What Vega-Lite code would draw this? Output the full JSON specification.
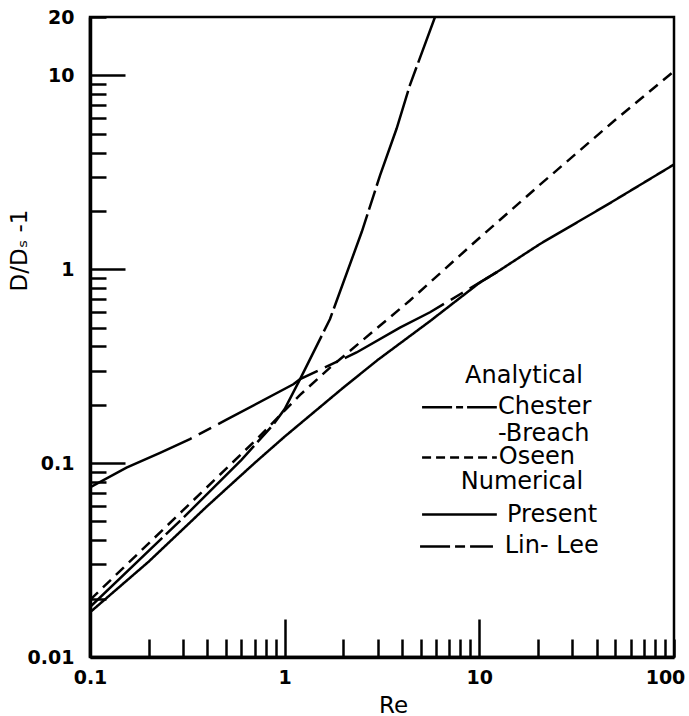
{
  "$schema": "https://vega.github.io/schema/vega-lite/v6.json",
  "width": 584,
  "height": 640,
  "autosize": "none",
  "padding": {"left": 90, "top": 17, "right": 15, "bottom": 59},
  "background": "white",
  "config": {
    "font": "DejaVu Sans",
    "view": {"stroke": "black", "strokeWidth": 2.5}
  },
  "datasets": {
    "curves": [
      {"series": "Present", "Re": 0.1, "D": 0.017},
      {"series": "Present", "Re": 0.2, "D": 0.031},
      {"series": "Present", "Re": 0.4, "D": 0.060},
      {"series": "Present", "Re": 0.7, "D": 0.1},
      {"series": "Present", "Re": 1, "D": 0.137},
      {"series": "Present", "Re": 2, "D": 0.245},
      {"series": "Present", "Re": 3, "D": 0.34},
      {"series": "Present", "Re": 5.58, "D": 0.54},
      {"series": "Present", "Re": 10, "D": 0.85},
      {"series": "Present", "Re": 12.3, "D": 0.966},
      {"series": "Present", "Re": 20.5, "D": 1.35},
      {"series": "Present", "Re": 45, "D": 2.14},
      {"series": "Present", "Re": 100, "D": 3.47},
      {"series": "Oseen", "Re": 0.1, "D": 0.0197},
      {"series": "Oseen", "Re": 0.3, "D": 0.057},
      {"series": "Oseen", "Re": 0.73, "D": 0.135},
      {"series": "Oseen", "Re": 1.2, "D": 0.225},
      {"series": "Oseen", "Re": 1.71, "D": 0.311},
      {"series": "Oseen", "Re": 4.4, "D": 0.69},
      {"series": "Oseen", "Re": 10, "D": 1.45},
      {"series": "Oseen", "Re": 20.5, "D": 2.73},
      {"series": "Oseen", "Re": 50, "D": 5.9},
      {"series": "Oseen", "Re": 100, "D": 10.5},
      {"series": "Chester-Breach", "Re": 0.1, "D": 0.0181},
      {"series": "Chester-Breach", "Re": 0.3, "D": 0.052},
      {"series": "Chester-Breach", "Re": 0.6, "D": 0.104},
      {"series": "Chester-Breach", "Re": 0.874, "D": 0.158},
      {"series": "Chester-Breach", "Re": 1.0, "D": 0.19},
      {"series": "Chester-Breach", "Re": 1.2, "D": 0.271},
      {"series": "Chester-Breach", "Re": 1.71, "D": 0.554},
      {"series": "Chester-Breach", "Re": 2.49, "D": 1.56},
      {"series": "Chester-Breach", "Re": 3.09, "D": 3.05},
      {"series": "Chester-Breach", "Re": 3.76, "D": 5.32},
      {"series": "Chester-Breach", "Re": 4.4, "D": 8.91},
      {"series": "Chester-Breach", "Re": 5.92, "D": 20},
      {"series": "Lin-Lee", "Re": 0.1, "D": 0.075},
      {"series": "Lin-Lee", "Re": 0.154, "D": 0.0947},
      {"series": "Lin-Lee", "Re": 0.229, "D": 0.113},
      {"series": "Lin-Lee", "Re": 0.326, "D": 0.133},
      {"series": "Lin-Lee", "Re": 0.5, "D": 0.167},
      {"series": "Lin-Lee", "Re": 1.108, "D": 0.255},
      {"series": "Lin-Lee", "Re": 1.2, "D": 0.271},
      {"series": "Lin-Lee", "Re": 2.34, "D": 0.372},
      {"series": "Lin-Lee", "Re": 3.91, "D": 0.5},
      {"series": "Lin-Lee", "Re": 5.58, "D": 0.6},
      {"series": "Lin-Lee", "Re": 8, "D": 0.745},
      {"series": "Lin-Lee", "Re": 12.3, "D": 0.966}
    ],
    "samples": [
      {"series": "Chester-Breach", "x1": 5.08, "x2": 12.3, "y": 0.194},
      {"series": "Oseen", "x1": 5.08, "x2": 12.3, "y": 0.107},
      {"series": "Present", "x1": 5.08, "x2": 12.3, "y": 0.0543},
      {"series": "Lin-Lee", "x1": 4.96, "x2": 11.75, "y": 0.0372}
    ],
    "headers": [
      {"text": "Analytical", "x": 16.96, "y": 0.281},
      {"text": "Numerical", "x": 16.56, "y": 0.0795}
    ],
    "entries": [
      {"text": "Chester", "x": 12.47, "y": 0.194},
      {"text": "-Breach", "x": 12.47, "y": 0.1408},
      {"text": "Oseen", "x": 12.6, "y": 0.107},
      {"text": "Present", "x": 13.87, "y": 0.0543},
      {"text": "Lin- Lee", "x": 13.5, "y": 0.0372}
    ]
  },
  "layer": [
    {
      "data": {"name": "curves"},
      "mark": {"type": "line", "color": "black", "strokeWidth": 2.5, "clip": true},
      "encoding": {
        "x": {
          "field": "Re", "type": "quantitative",
          "scale": {"type": "log", "domain": [0.1, 100], "nice": false},
          "axis": {
            "title": "Re",
            "values": [0.1,0.2,0.3,0.4,0.5,0.6,0.7,0.8,0.9,1,2,3,4,5,6,7,8,9,10,20,30,40,50,60,70,80,90,100],
            "format": "~g",
            "labelExpr": "(datum.value==0.1||datum.value==1||datum.value==10||datum.value==100) ? datum.label : ''",
            "tickSize": {"condition": {"test": "datum.value==1||datum.value==10", "value": -38}, "value": -18},
            "labelPadding": {"condition": {"test": "datum.value==1||datum.value==10", "value": 49}, "value": 29},
            "labelOffset": {"condition": {"test": "datum.value==100", "value": -9}, "value": 0},
            "tickColor": "black", "tickWidth": 2.5,
            "domainColor": "black", "domainWidth": 3.5,
            "labelColor": "black", "labelFontSize": 19, "labelFontWeight": "bold", "labelFlush": false, "labelOverlap": false, "labelBound": false,
            "labelBaseline": "top",
            "grid": false,
            "titleColor": "black", "titleFontSize": 23, "titleFontWeight": "normal",
            "titleX": 303, "titleY": 55, "titleBaseline": "alphabetic", "titleAlign": "center"
          }
        },
        "y": {
          "field": "D", "type": "quantitative",
          "scale": {"type": "log", "domain": [0.01, 20], "nice": false},
          "axis": {
            "title": "D/Dₛ -1",
            "values": [0.01,0.02,0.03,0.04,0.05,0.06,0.07,0.08,0.09,0.1,0.2,0.3,0.4,0.5,0.6,0.7,0.8,0.9,1,2,3,4,5,6,7,8,9,10,20],
            "format": "~g",
            "labelExpr": "(datum.value==0.01||datum.value==0.1||datum.value==1||datum.value==10||datum.value==20) ? datum.label : ''",
            "tickSize": {"condition": {"test": "datum.value==0.1||datum.value==1||datum.value==10", "value": -35}, "value": -16},
            "labelPadding": {"condition": {"test": "datum.value==0.1||datum.value==1||datum.value==10", "value": 51}, "value": 32},
            "tickColor": "black", "tickWidth": 2.5,
            "domainColor": "black", "domainWidth": 3.5,
            "labelColor": "black", "labelFontSize": 19, "labelFontWeight": "bold", "labelFlush": false, "labelOverlap": false, "labelBound": false,
            "grid": false,
            "titleColor": "black", "titleFontSize": 23, "titleFontWeight": "normal",
            "titleX": -71, "titleY": 233, "titleBaseline": "middle", "titleAlign": "center", "titleAngle": -90
          }
        },
        "detail": {"field": "series"},
        "strokeDash": {
          "field": "series", "type": "nominal",
          "scale": {"domain": ["Present", "Oseen", "Chester-Breach", "Lin-Lee"], "range": [[1, 0], [11, 7], [100, 5, 20, 5], [113, 8, 14, 8]]},
          "legend": null
        }
      }
    },
    {
      "data": {"name": "samples"},
      "transform": [{"filter": "datum.series == 'Chester-Breach'"}],
      "mark": {"type": "rule", "color": "black", "strokeWidth": 2.5, "strokeDash": [30, 4, 7, 4]},
      "encoding": {"x": {"field": "x1", "type": "quantitative"}, "x2": {"field": "x2"}, "y": {"field": "y", "type": "quantitative"}}
    },
    {
      "data": {"name": "samples"},
      "transform": [{"filter": "datum.series == 'Oseen'"}],
      "mark": {"type": "rule", "color": "black", "strokeWidth": 2.5, "strokeDash": [9, 5]},
      "encoding": {"x": {"field": "x1", "type": "quantitative"}, "x2": {"field": "x2"}, "y": {"field": "y", "type": "quantitative"}}
    },
    {
      "data": {"name": "samples"},
      "transform": [{"filter": "datum.series == 'Present'"}],
      "mark": {"type": "rule", "color": "black", "strokeWidth": 2.5},
      "encoding": {"x": {"field": "x1", "type": "quantitative"}, "x2": {"field": "x2"}, "y": {"field": "y", "type": "quantitative"}}
    },
    {
      "data": {"name": "samples"},
      "transform": [{"filter": "datum.series == 'Lin-Lee'"}],
      "mark": {"type": "rule", "color": "black", "strokeWidth": 2.5, "strokeDash": [30, 5, 10, 5]},
      "encoding": {"x": {"field": "x1", "type": "quantitative"}, "x2": {"field": "x2"}, "y": {"field": "y", "type": "quantitative"}}
    },
    {
      "data": {"name": "headers"},
      "mark": {"type": "text", "font": "DejaVu Sans", "fontSize": 24, "align": "center", "baseline": "middle", "color": "black"},
      "encoding": {"x": {"field": "x", "type": "quantitative"}, "y": {"field": "y", "type": "quantitative"}, "text": {"field": "text"}}
    },
    {
      "data": {"name": "entries"},
      "mark": {"type": "text", "font": "DejaVu Sans", "fontSize": 24, "align": "left", "baseline": "middle", "color": "black"},
      "encoding": {"x": {"field": "x", "type": "quantitative"}, "y": {"field": "y", "type": "quantitative"}, "text": {"field": "text"}}
    }
  ]
}
